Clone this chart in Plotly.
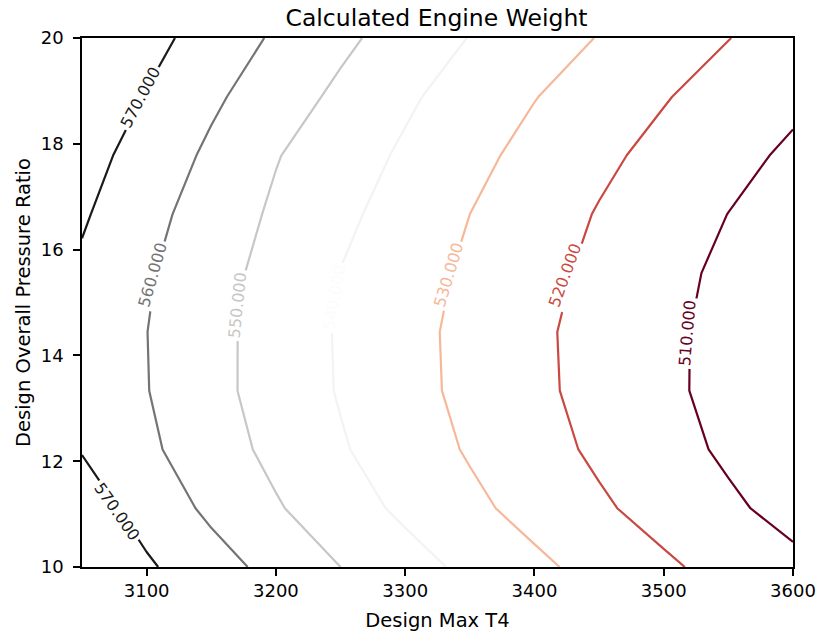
import plotly.graph_objects as go

# Grid: Design Max T4 (x) and Design Overall Pressure Ratio (y)
t4 = [3050, 3100, 3150, 3200, 3250, 3300, 3350, 3400, 3450, 3500, 3550, 3600]
opr = [10.0, 11.111, 12.222, 13.333, 14.444, 15.556, 16.667, 17.778, 18.889, 20.0]

# Estimated engine weight on the grid (rows follow opr, columns follow t4)
w_opr_10_0 = [578.7, 571.3, 564.0, 556.9, 550.0, 543.8, 537.8, 532.1, 526.7, 521.6, 516.7, 512.3]
w_opr_11_1 = [574.8, 566.2, 558.0, 550.9, 544.4, 538.1, 532.2, 526.7, 521.4, 516.4, 511.6, 506.9]
w_opr_12_2 = [569.5, 561.8, 554.5, 547.5, 540.9, 534.9, 529.1, 523.6, 518.3, 513.4, 508.5, 503.7]
w_opr_13_3 = [567.7, 560.3, 552.8, 545.9, 539.3, 533.3, 527.5, 522.0, 516.9, 511.9, 507.1, 502.3]
w_opr_14_4 = [567.4, 560.1, 552.9, 545.8, 539.1, 533.1, 527.3, 521.8, 516.7, 511.9, 507.2, 502.5]
w_opr_15_6 = [568.4, 561.0, 553.7, 546.6, 539.8, 534.0, 528.4, 523.0, 517.8, 512.8, 508.0, 503.3]
w_opr_16_7 = [571.1, 563.0, 555.5, 548.5, 542.1, 536.0, 530.0, 524.7, 519.4, 514.7, 509.9, 505.4]
w_opr_17_8 = [573.7, 566.0, 558.2, 550.5, 544.5, 538.6, 532.6, 527.1, 522.0, 517.3, 512.8, 508.4]
w_opr_18_9 = [577.3, 569.5, 561.7, 554.7, 548.0, 541.5, 535.8, 530.3, 525.4, 520.6, 516.0, 512.0]
w_opr_20_0 = [580.6, 573.2, 565.9, 558.7, 552.1, 545.8, 539.7, 534.7, 529.6, 524.9, 520.2, 515.6]
weight = [w_opr_10_0, w_opr_11_1, w_opr_12_2, w_opr_13_3, w_opr_14_4,
          w_opr_15_6, w_opr_16_7, w_opr_17_8, w_opr_18_9, w_opr_20_0]

# Contour levels and their colours (RdGy map)
levels = [510, 520, 530, 540, 550, 560, 570]
level_colors = ["#67001f", "#ca4842", "#f7b799", "#f3f3f3", "#c7c7c7", "#747474", "#1a1a1a"]
label_colors = ["#67001f", "#ca4842", "#f7b799", "#fcfcfc", "#c7c7c7", "#747474", "#1a1a1a"]

# Inline contour labels: level, T4, OPR, rotation
label_levels = [570, 570, 560, 550, 540, 530, 520, 510]
label_t4 = [3095, 3077, 3105, 3170, 3245, 3334, 3424, 3518]
label_opr = [18.88, 11.05, 15.52, 14.95, 15.1, 15.52, 15.52, 14.42]
label_angles = [-62, 55, -74, -84, -80, -73, -70, -85]

FONT = "DejaVu Sans"

n = len(levels)
colorscale = [[i / (n - 1), c] for i, c in enumerate(level_colors)]

fig = go.Figure()
fig.add_trace(go.Contour(
    x=t4, y=opr, z=weight,
    contours=dict(start=levels[0], end=levels[-1], size=levels[1] - levels[0],
                  coloring="lines", showlabels=False),
    colorscale=colorscale,
    line=dict(width=2.2, smoothing=0),
    showscale=False,
    hoverinfo="skip",
))

for lv, lx, ly, ang in zip(label_levels, label_t4, label_opr, label_angles):
    fig.add_annotation(
        x=lx, y=ly, xref="x", yref="y",
        text=f"{lv:.3f}", showarrow=False, textangle=ang,
        font=dict(family=FONT, size=16, color=label_colors[levels.index(lv)]),
        bgcolor="white", borderpad=2,
    )

axis_common = dict(
    showline=True, mirror=True, linecolor="black", linewidth=1.5,
    ticks="outside", ticklen=7, tickwidth=1.5, tickcolor="black",
    showgrid=False, zeroline=False, automargin=False,
    ticklabeloverflow="allow",
    tickfont=dict(family=FONT, size=18, color="black"),
)

fig.update_layout(
    width=816, height=632,
    margin=dict(l=82, r=23, t=38, b=65),
    paper_bgcolor="white", plot_bgcolor="white",
    title=dict(text="Calculated Engine Weight", x=0.535, xanchor="center",
               y=1 - 18 / 632, yanchor="middle", yref="container",
               font=dict(family=FONT, size=23.5, color="black")),
    xaxis=dict(range=[3050, 3600], tickmode="array",
               tickvals=[3100, 3200, 3300, 3400, 3500, 3600],
               title=dict(text="Design Max T4", standoff=13,
                          font=dict(family=FONT, size=19.5, color="black")),
               **axis_common),
    yaxis=dict(range=[10, 20], tickmode="array",
               tickvals=[10, 12, 14, 16, 18, 20],
               ticklabelstandoff=6,
               title=dict(text="Design Overall Pressure Ratio", standoff=5,
                          font=dict(family=FONT, size=19.5, color="black")),
               **axis_common),
    showlegend=False,
)

fig.write_html("out.html",
               config={"displayModeBar": False},
               post_script="document.body.style.margin='0px';document.body.style.padding='0px';")
